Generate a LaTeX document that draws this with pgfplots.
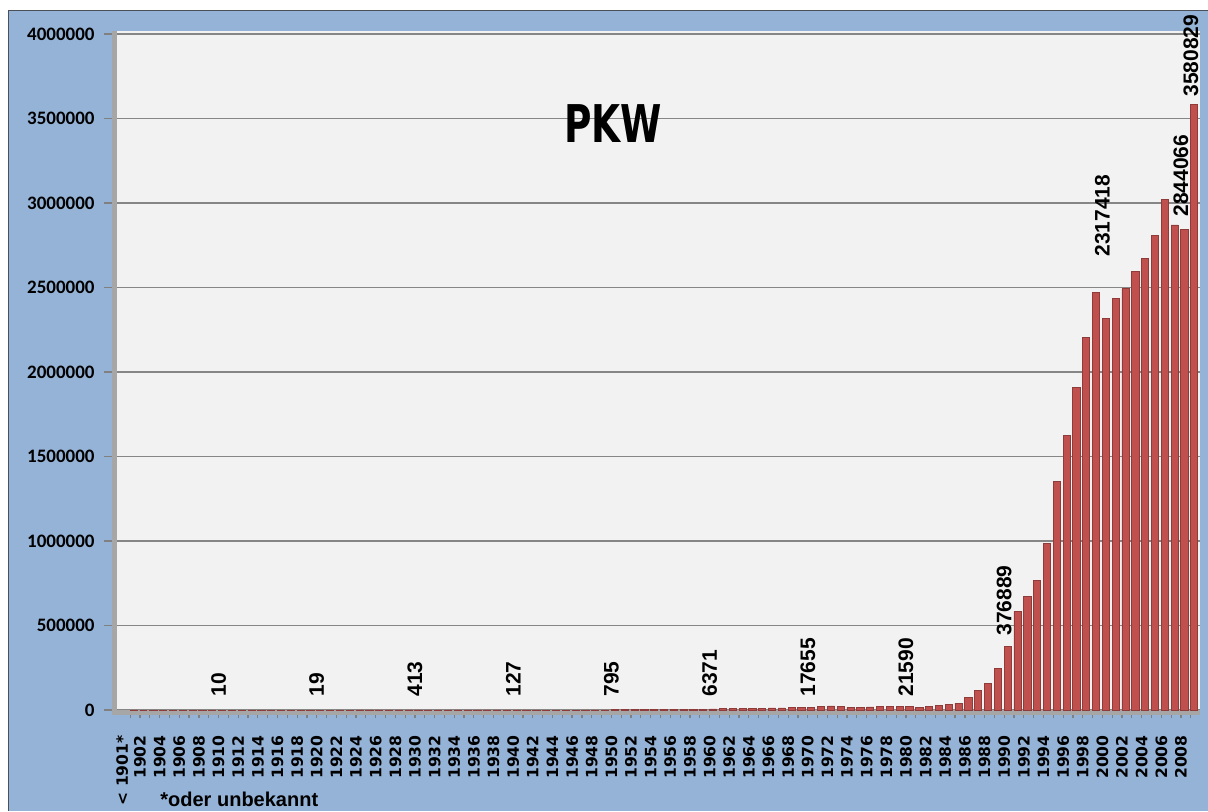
\documentclass[border=0pt]{standalone}
\usepackage{pgfplots}
\pgfplotsset{compat=1.18}
\usepackage{fontspec}
\setmainfont{Liberation Sans}
\newfontfamily\dejavu{DejaVu Sans}
\newfontfamily\dejacond{DejaVu Sans Condensed}
\newfontfamily\carlito{Carlito}
\definecolor{bgblue}{HTML}{95B3D7}
\definecolor{plotbg}{HTML}{F2F2F2}
\definecolor{gridgray}{HTML}{868686}
\definecolor{barred}{HTML}{C0504D}
\definecolor{bardark}{HTML}{8E3B39}
\definecolor{wallgray}{HTML}{A6A6A6}
\definecolor{framedark}{HTML}{4A4F58}
\begin{document}
\begin{tikzpicture}
\useasboundingbox (0,0) rectangle (604pt,405.5pt);
\fill[white] (0,0) rectangle (604pt,405.5pt);
\fill[bgblue] (4pt,0) rectangle (604pt,400.5pt);
\draw[framedark, line width=0.6pt] (4.3pt,0) -- (4.3pt,400.2pt) -- (604pt,400.2pt);
\begin{axis}[
  at={(56pt,50.5pt)}, anchor=south west,
  scale only axis, width=544pt, height=339.5pt,
  xmin=1899.15, xmax=2009.94,
  ymin=0, ymax=4017600,
  clip=false,
  axis background/.style={fill=plotbg},
  axis line style={draw=none},
  ybar, bar width=3.6pt, bar shift=1.75pt,
  ymajorgrids, grid style={gridgray, line width=0.9pt},
  ytick={0,500000,...,4000000},
  scaled y ticks=false,
  yticklabel style={/pgf/number format/fixed, /pgf/number format/1000 sep={},
    /pgf/number format/assume math mode=true,
    font=\carlito\bfseries\fontsize{9.5}{11}\selectfont, inner sep=0pt, anchor=east},
  yticklabel shift=4.5pt,
  xtick={1901,1902,1904,...,2008},
  minor xtick={1903,1905,...,2009},
  xticklabels={{\raisebox{4pt}[\height][\depth]{< 1901*}},1902,1904,1906,1908,1910,1912,1914,1916,1918,1920,1922,1924,1926,1928,1930,1932,1934,1936,1938,1940,1942,1944,1946,1948,1950,1952,1954,1956,1958,1960,1962,1964,1966,1968,1970,1972,1974,1976,1978,1980,1982,1984,1986,1988,1990,1992,1994,1996,1998,2000,2002,2004,2006,2008},
  xticklabel style={rotate=90, anchor=east, inner sep=0pt,
    font=\dejavu\bfseries\fontsize{7.8}{9}\selectfont},
  xticklabel shift=8.5pt,
  xtick pos=left, ytick pos=left,
  tick align=outside,
  major tick length=4pt, minor tick length=4pt,
  tick style={draw=gray, line width=0.6pt},
]
\fill[wallgray] (rel axis cs:0,0) rectangle ([xshift=2.5pt]rel axis cs:0,1);
\fill[wallgray] ([yshift=-2.5pt]rel axis cs:0,0) rectangle (rel axis cs:1,0);
\addplot[fill=barred, draw=bardark, line width=0.4pt] coordinates {
(1901,250) (1902,0) (1903,1) (1904,1) (1905,2) (1906,3) (1907,3) (1908,5) (1909,6)
(1910,10) (1911,8) (1912,9) (1913,10) (1914,8) (1915,5) (1916,4) (1917,4) (1918,6) (1919,12)
(1920,19) (1921,30) (1922,45) (1923,60) (1924,90) (1925,140) (1926,180) (1927,250) (1928,320) (1929,380)
(1930,413) (1931,330) (1932,300) (1933,380) (1934,450) (1935,520) (1936,560) (1937,540) (1938,480) (1939,260)
(1940,127) (1941,90) (1942,70) (1943,60) (1944,55) (1945,40) (1946,60) (1947,110) (1948,210) (1949,420)
(1950,795) (1951,1100) (1952,1500) (1953,1900) (1954,2400) (1955,2900) (1956,3300) (1957,3800) (1958,4500) (1959,5400)
(1960,6371) (1961,7200) (1962,8000) (1963,8900) (1964,9900) (1965,11000) (1966,12000) (1967,12500) (1968,14000) (1969,16000)
(1970,17655) (1971,21000) (1972,24000) (1973,23000) (1974,17000) (1975,17500) (1976,18000) (1977,19000) (1978,20500) (1979,23000)
(1980,21590) (1981,17000) (1982,20000) (1983,29000) (1984,34000) (1985,41000) (1986,73000) (1987,118000) (1988,158000) (1989,244000)
(1990,376889) (1991,582000) (1992,670000) (1993,769000) (1994,986000) (1995,1351000) (1996,1627000) (1997,1907000) (1998,2205000) (1999,2473000)
(2000,2317418) (2001,2434000) (2002,2493000) (2003,2594000) (2004,2673000) (2005,2809000) (2006,3022000) (2007,2870000) (2008,2844066) (2009,3580829)
};
\begin{scope}[every node/.style={rotate=90, anchor=west, inner sep=0pt, font=\bfseries\fontsize{10.5}{12}\selectfont}]
\node at (axis cs:1910,77000) {10};
\node at (axis cs:1920,77000) {19};
\node at (axis cs:1930,77000) {413};
\node at (axis cs:1940,77000) {127};
\node at (axis cs:1950,77000) {795};
\node at (axis cs:1960,77000) {6371};
\node at (axis cs:1970,77000) {17655};
\node at (axis cs:1980,77000) {21590};
\node at (axis cs:1990,437900) {376889};
\node at (axis cs:2000,2680000) {2317418};
\node at (axis cs:2008,2917000) {2844066};
\node at (axis cs:2009,3627000) {3580829};
\end{scope}
\end{axis}
\node[font=\dejacond\bfseries\fontsize{26}{30}\selectfont, xscale=0.8, inner sep=0pt] at (306.5pt,343.5pt) {PKW};
\node[font=\bfseries\fontsize{10}{12}\selectfont, anchor=base west, inner sep=0pt] at (80pt,2.5pt) {*oder unbekannt};
\end{tikzpicture}
\end{document}
